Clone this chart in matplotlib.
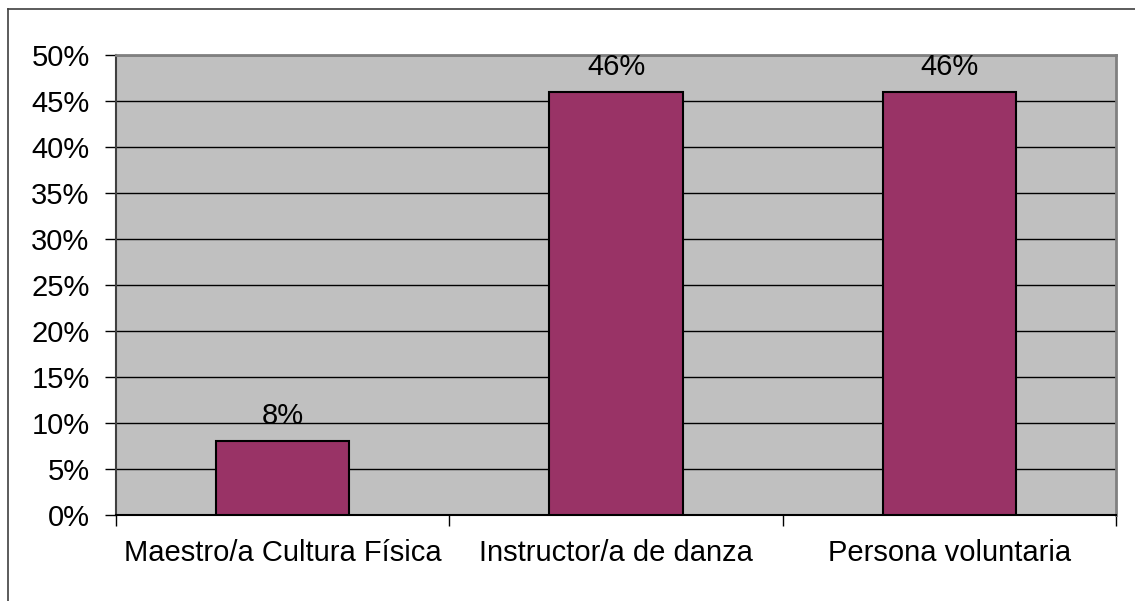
import matplotlib
matplotlib.use('Agg')
import numpy as np
from matplotlib import pyplot as plt
from matplotlib.lines import Line2D

categories = ['Maestro/a Cultura Física', 'Instructor/a de danza', 'Persona voluntaria']
values = [8, 46, 46]
yticks = [0, 5, 10, 15, 20, 25, 30, 35, 40, 45, 50]

plt.rcParams['font.family'] = ['Liberation Sans', 'DejaVu Sans']

W, H = 1135, 601
fig = plt.figure(figsize=(W / 100, H / 100), dpi=100)
fig.patch.set_facecolor('white')

# plot area in pixel coords
left, right, top, bottom = 116, 1116, 55, 515
ax = fig.add_axes([left / W, 1 - bottom / H, (right - left) / W, (bottom - top) / H])
ax.set_facecolor('#C0C0C0')

x = np.arange(len(categories))
ax.bar(x, values, width=0.4, color='#993366', edgecolor='black', linewidth=1.5, zorder=3)

for xi, v in zip(x, values):
    ax.text(xi, v + 1.2, '%d%%' % v, ha='center', va='bottom', fontsize=21, zorder=4)

ax.set_xlim(-0.5, len(categories) - 0.5)
ax.set_ylim(0, 50)
ax.set_yticks(yticks)
ax.set_yticklabels(['%d%%' % t for t in yticks], fontsize=21)
ax.yaxis.grid(True, color='black', linewidth=1, zorder=1)
ax.set_axisbelow(True)

ax.set_xticks(x)
ax.set_xticklabels(categories, fontsize=21)
ax.tick_params(axis='x', length=0, pad=17)
ax.tick_params(axis='y', length=8, width=1, pad=11)
# category boundary ticks
ax.set_xticks(np.arange(len(categories) + 1) - 0.5, minor=True)
ax.tick_params(axis='x', which='minor', length=8, width=1, direction='out')

for side in ['top', 'right']:
    ax.spines[side].set_color('#808080')
    ax.spines[side].set_linewidth(2)
ax.spines['left'].set_color('#404040')
ax.spines['left'].set_linewidth(1.5)
ax.spines['bottom'].set_color('black')
ax.spines['bottom'].set_linewidth(1.5)

# outer chart border (left and top visible)
bx, by = 8 / W, 1 - 9 / H
fig.add_artist(Line2D([bx, bx], [0, by], color='#404040', linewidth=1.2, transform=fig.transFigure))
fig.add_artist(Line2D([bx, 1], [by, by], color='#404040', linewidth=1.2, transform=fig.transFigure))

fig.savefig('out.png', dpi=100)
